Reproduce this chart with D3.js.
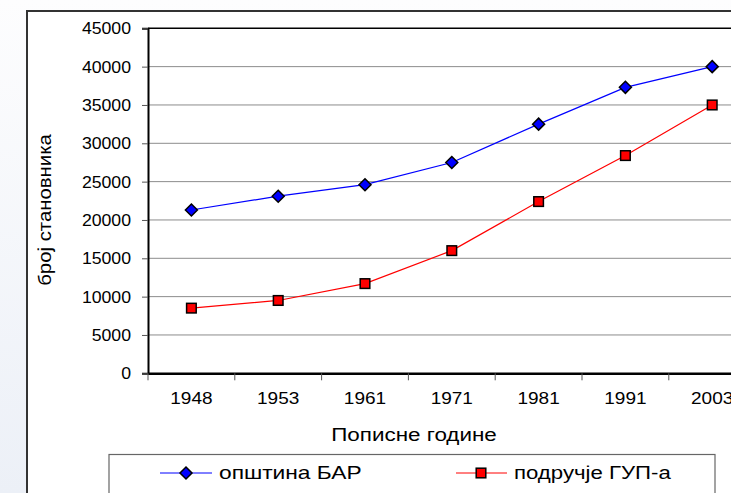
<!DOCTYPE html>
<html><head><meta charset="utf-8">
<script src="https://cdn.jsdelivr.net/npm/d3@7"></script>
<style>html,body{margin:0;padding:0;overflow:hidden;background:#fff}</style>
</head><body><svg id="c" width="731" height="493"></svg>
<script>
const years = ["1948","1953","1961","1971","1981","1991","2003"];
const opstinaBar = [21300, 23100, 24600, 27500, 32500, 37300, 40000];
const podrucjeGup = [8500, 9500, 11700, 16000, 22400, 28400, 35000];
const yTicks = [0,5000,10000,15000,20000,25000,30000,35000,40000,45000];
const seriesNames = ["општина БАР", "подручје ГУП-а"];
const yTitle = "број становника";
const xTitle = "Пописне године";

const svg = d3.select("#c");
const font = "'Liberation Sans', Arial, sans-serif";
const defs = svg.append("defs");
const g = defs.append("linearGradient").attr("id","bg").attr("x1",0).attr("y1",0).attr("x2",0).attr("y2",1);
g.append("stop").attr("offset","0").attr("stop-color","#fdfdfe");
g.append("stop").attr("offset","1").attr("stop-color","#ecf0f7");
svg.append("rect").attr("width",731).attr("height",493).attr("fill","url(#bg)");
svg.append("rect").attr("x",27).attr("y",11).attr("width",760).attr("height",520)
  .attr("fill","#fff").attr("stroke","#333").attr("stroke-width",2);

const L=148, T=28.3, B=373.3, R=148+7*86.8;
const x = d3.scaleBand().domain(years).range([L,R]);
const y = d3.scaleLinear().domain([0,45000]).range([B,T]);

function stretch(sel, sx){
  sel.each(function(){
    const t=d3.select(this); const x0=+t.attr("x")||0; const y0=+t.attr("y")||0;
    t.attr("x",0).attr("y",0).attr("transform",`translate(${x0},${y0}) scale(${sx},1)`);
  });
}

// gridlines
svg.append("g").selectAll("line").data(yTicks.filter(d=>d>0)).join("line")
  .attr("x1",L).attr("x2",R).attr("y1",d=>y(d)).attr("y2",d=>y(d))
  .attr("stroke", d=>d===45000?"#000":"#8c8c8c").attr("stroke-width",d=>d===45000?1.5:1);

// y axis
const ya = svg.append("g").attr("transform",`translate(${L},0)`)
  .call(d3.axisLeft(y).tickValues(yTicks).tickSize(6).tickPadding(11).tickFormat(d=>d));
ya.select(".domain").attr("stroke","#000").attr("stroke-width",2);
ya.selectAll(".tick line").attr("stroke","#555");
ya.selectAll("text").attr("font-family",font).attr("font-size",17).attr("fill","#000").call(stretch,1.04);

// x axis
const xa = svg.append("g").attr("transform",`translate(0,${B})`)
  .call(d3.axisBottom(x).tickSize(0).tickPadding(19));
xa.select(".domain").attr("stroke","#000").attr("stroke-width",2.5);
xa.selectAll("text").attr("font-family",font).attr("font-size",17).attr("fill","#000").call(stretch,1.12);
svg.append("g").selectAll("line").data(d3.range(8)).join("line")
  .attr("x1",i=>L+i*x.step()).attr("x2",i=>L+i*x.step())
  .attr("y1",B).attr("y2",B+7).attr("stroke","#555").attr("stroke-width",1);

// titles
svg.append("text").attr("x",414).attr("y",441).attr("text-anchor","middle")
  .attr("font-family",font).attr("font-size",19).text(xTitle).call(stretch,1.18);
svg.append("text").attr("transform","translate(51,210) rotate(-90) scale(1.1,1)").attr("text-anchor","middle")
  .attr("font-family",font).attr("font-size",18.5).text(yTitle);

const cx = d => x(d)+x.bandwidth()/2;
const line = d3.line().x((d,i)=>cx(years[i])).y(d=>y(d));
svg.append("path").datum(opstinaBar).attr("d",line).attr("fill","none").attr("stroke","#0000ff").attr("stroke-width",1.2);
svg.append("path").datum(podrucjeGup).attr("d",line).attr("fill","none").attr("stroke","#ff0000").attr("stroke-width",1.2);

function diamond(sel, px, py){
  sel.append("path").attr("d",`M${px},${py-6}L${px+6},${py}L${px},${py+6}L${px-6},${py}Z`)
    .attr("fill","#0000ff").attr("stroke","#000").attr("stroke-width",1.5);
}
function square(sel, px, py){
  sel.append("rect").attr("x",px-4.8).attr("y",py-4.8).attr("width",9.6).attr("height",9.6)
    .attr("fill","#ff0000").attr("stroke","#000").attr("stroke-width",1.5);
}
const mk = svg.append("g");
opstinaBar.forEach((v,i)=>diamond(mk, cx(years[i]), y(v)));
podrucjeGup.forEach((v,i)=>square(mk, cx(years[i]), y(v)));

// legend
const lg = svg.append("g");
lg.append("rect").attr("x",109).attr("y",454.5).attr("width",606).attr("height",60)
  .attr("fill","#fff").attr("stroke","#666").attr("stroke-width",1.2);
lg.append("line").attr("x1",160).attr("x2",212).attr("y1",473).attr("y2",473).attr("stroke","#0000ff");
diamond(lg,186,473);
lg.append("text").attr("x",219).attr("y",479).attr("font-family",font).attr("font-size",18.5).text(seriesNames[0]).call(stretch,1.23);
lg.append("line").attr("x1",456).attr("x2",507).attr("y1",473).attr("y2",473).attr("stroke","#ff0000");
square(lg,481,473);
lg.append("text").attr("x",514).attr("y",479).attr("font-family",font).attr("font-size",18.5).text(seriesNames[1]).call(stretch,1.2);
</script></body></html>
